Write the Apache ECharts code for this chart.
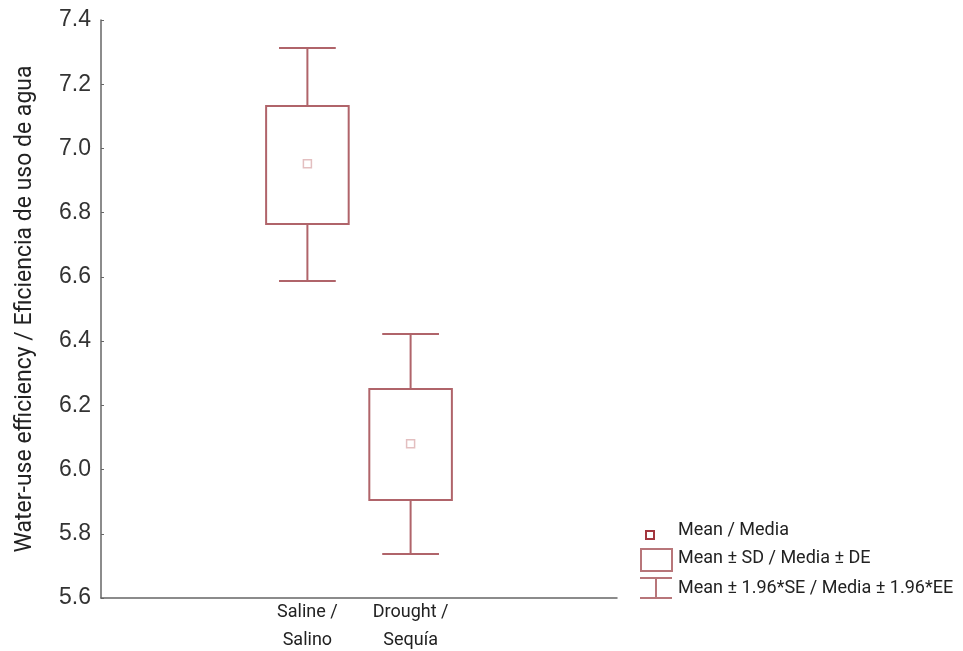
<!DOCTYPE html>
<html><head><meta charset="utf-8">
<script src="https://cdn.jsdelivr.net/npm/echarts@6/dist/echarts.min.js"></script>
<style>html,body{margin:0;padding:0;background:#fff}#c{width:963px;height:651px}</style>
</head><body><div id="c"></div>
<script>
const categories = ['', '', 'Saline /\nSalino', 'Drought /\nSequía', '', ''];
const groupIndex = [2, 3];
const ciLow = [6.587, 5.737];
const sdLow = [6.765, 5.905];
const means = [6.952, 6.080];
const sdHigh = [7.132, 6.251];
const ciHigh = [7.313, 6.422];
const yTicks = { min: 5.6, max: 7.4, step: 0.2 };
const legendLabels = ['Mean / Media', 'Mean ± SD / Media ± DE', 'Mean ± 1.96*SE / Media ± 1.96*EE'];

const narrow = "'Liberation Sans Narrow', 'Arial Narrow', 'Roboto', sans-serif";
const strokeCol = '#b0646a';
const data = groupIndex.map((g, i) => [g, ciLow[i], sdLow[i], means[i], sdHigh[i], ciHigh[i]]);

const chart = echarts.init(document.getElementById('c'));
chart.setOption({
  animation: false,
  grid: { left: 101, right: 346, top: 20, bottom: 53, containLabel: false, outerBoundsMode: 'none' },
  xAxis: {
    type: 'category', data: categories, boundaryGap: false,
    axisLine: { lineStyle: { color: '#666', width: 1.5 } },
    axisTick: { show: false },
    axisLabel: { interval: 0, color: '#222', fontSize: 18, lineHeight: 28, fontFamily: narrow, margin: 0 }
  },
  yAxis: {
    type: 'value', min: yTicks.min, max: yTicks.max, interval: yTicks.step,
    name: 'Water-use efficiency / Eficiencia de uso de agua',
    nameLocation: 'middle', nameGap: 64,
    nameTextStyle: { fontSize: 23, fontFamily: narrow, color: '#222' },
    axisLine: { show: true, lineStyle: { color: '#666', width: 1.5 } },
    axisTick: { show: true, inside: true, length: 3, lineStyle: { color: '#666' } },
    splitLine: { show: false },
    axisLabel: { formatter: v => v.toFixed(1), fontSize: 23, color: '#333', margin: 10, fontFamily: "'Liberation Sans', Arial, sans-serif" }
  },
  series: [{
    type: 'custom',
    data: data,
    encode: { x: 0, y: [1, 2, 3, 4, 5] },
    renderItem: function (params, api) {
      const x = api.value(0);
      const pLo = api.coord([x, api.value(1)]);
      const pBl = api.coord([x, api.value(2)]);
      const pM = api.coord([x, api.value(3)]);
      const pBh = api.coord([x, api.value(4)]);
      const pHi = api.coord([x, api.value(5)]);
      const bw = api.size([1, 0])[0] * 0.8;
      const cw = api.size([1, 0])[0] * 0.55;
      const cx = pM[0];
      const ls = { stroke: strokeCol, lineWidth: 2, fill: null };
      return {
        type: 'group',
        children: [
          { type: 'line', shape: { x1: cx, y1: pHi[1], x2: cx, y2: pBh[1] }, style: ls },
          { type: 'line', shape: { x1: cx, y1: pBl[1], x2: cx, y2: pLo[1] }, style: ls },
          { type: 'line', shape: { x1: cx - cw / 2, y1: pHi[1], x2: cx + cw / 2, y2: pHi[1] }, style: ls },
          { type: 'line', shape: { x1: cx - cw / 2, y1: pLo[1], x2: cx + cw / 2, y2: pLo[1] }, style: ls },
          { type: 'rect', shape: { x: cx - bw / 2, y: pBh[1], width: bw, height: pBl[1] - pBh[1] }, style: { stroke: strokeCol, lineWidth: 2, fill: '#fff' } },
          { type: 'rect', shape: { x: cx - 4, y: pM[1] - 4, width: 8, height: 8 }, style: { stroke: '#e3bfc0', lineWidth: 1.5, fill: '#fff' } }
        ]
      };
    }
  }],
  graphic: [
    { type: 'rect', shape: { x: 646, y: 531, width: 8, height: 8 }, style: { stroke: '#a3363e', lineWidth: 2, fill: '#fff' } },
    { type: 'rect', shape: { x: 641, y: 549, width: 31, height: 22 }, style: { stroke: '#b8767a', lineWidth: 2, fill: '#fff' } },
    { type: 'line', shape: { x1: 640, y1: 578, x2: 672, y2: 578 }, style: { stroke: '#b8767a', lineWidth: 2 } },
    { type: 'line', shape: { x1: 656, y1: 578, x2: 656, y2: 598 }, style: { stroke: '#b8767a', lineWidth: 2 } },
    { type: 'line', shape: { x1: 640, y1: 598, x2: 672, y2: 598 }, style: { stroke: '#b8767a', lineWidth: 2 } },
    { type: 'text', left: 678, top: 521, style: { text: legendLabels[0], font: "18px " + narrow, fill: '#222' } },
    { type: 'text', left: 678, top: 549, style: { text: legendLabels[1], font: "18px " + narrow, fill: '#222' } },
    { type: 'text', left: 678, top: 579, style: { text: legendLabels[2], font: "18px " + narrow, fill: '#222' } }
  ]
});
</script></body></html>
